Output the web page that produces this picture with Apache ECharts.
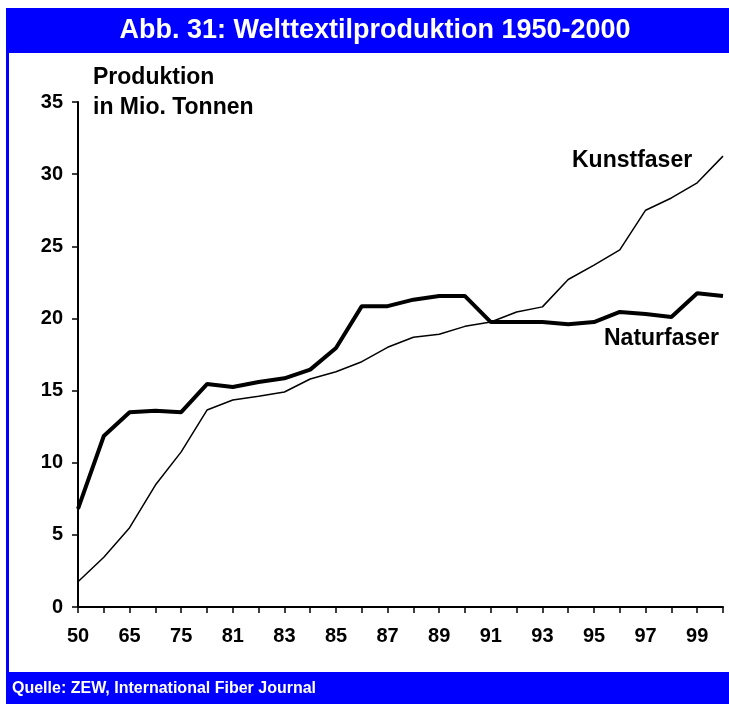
<!DOCTYPE html>
<html>
<head>
<meta charset="utf-8">
<script src="https://cdn.jsdelivr.net/npm/echarts@6/dist/echarts.min.js"></script>
<style>
html,body{margin:0;padding:0;background:#fff;}
#chart{width:729px;height:704px;}
</style>
</head>
<body>
<div id="chart"></div>
<script>
// Jahre (Kategorien), Beschriftung nur bei jedem zweiten
var years = ['50','60','65','70','75','80','81','82','83','84','85','86','87','88','89','90','91','92','93','94','95','96','97','98','99','00'];
// Mio. Tonnen
var naturfaser = [6.8,11.85,13.5,13.6,13.5,15.45,15.25,15.6,15.85,16.45,17.95,20.85,20.85,21.3,21.55,21.55,19.75,19.75,19.75,19.6,19.75,20.45,20.3,20.1,21.75,21.55];
var kunstfaser = [1.75,3.45,5.5,8.45,10.75,13.65,14.35,14.6,14.9,15.8,16.3,17.0,18.0,18.7,18.9,19.45,19.75,20.45,20.8,22.7,23.7,24.75,27.5,28.35,29.4,31.25];

var fontFam = 'Liberation Sans, Arial, sans-serif';
var blau = '#0000ff';

var chart = echarts.init(document.getElementById('chart'));
var option = {
    animation: false,
    grid: {
        left: 78,
        right: 6,
        top: 102,
        bottom: 97
    },
    xAxis: {
        type: 'category',
        data: years,
        boundaryGap: false,
        axisLine: {lineStyle: {color: '#000', width: 2}},
        axisTick: {show: true, interval: 0, length: 6, lineStyle: {color: '#000', width: 1.5}},
        axisLabel: {
            interval: function(i){ return i % 2 === 0; },
            hideOverlap: false,
            color: '#000',
            fontWeight: 'bold',
            fontSize: 20,
            fontFamily: fontFam,
            margin: 19
        },
        splitLine: {show: false}
    },
    yAxis: {
        type: 'value',
        min: 0,
        max: 35,
        interval: 5,
        axisLine: {show: true, lineStyle: {color: '#000', width: 2}},
        axisTick: {show: true, length: 6, lineStyle: {color: '#000', width: 1.5}},
        axisLabel: {
            color: '#000',
            fontWeight: 'bold',
            fontSize: 20,
            fontFamily: fontFam,
            margin: 15
        },
        splitLine: {show: false}
    },
    series: [{
            name: 'Kunstfaser',
            type: 'line',
            data: kunstfaser,
            symbol: 'none',
            lineStyle: {color: '#000', width: 1.5}
        },{
            name: 'Naturfaser',
            type: 'line',
            data: naturfaser,
            symbol: 'none',
            lineStyle: {color: '#000', width: 4}
        }],
    graphic: [
        // Titelbalken
        {type: 'rect', left: 6, top: 8, shape: {width: 723, height: 45}, style: {fill: blau}},
        {type: 'text', x: 375, y: 31, style: {text: 'Abb. 31: Welttextilproduktion 1950-2000', fill: '#fff', font: 'bold 27px ' + fontFam, textAlign: 'center', textVerticalAlign: 'middle'}},
        // linker Rand
        {type: 'rect', left: 6, top: 53, shape: {width: 3, height: 619}, style: {fill: blau}},
        // Fusszeile
        {type: 'rect', left: 6, top: 672, shape: {width: 723, height: 32}, style: {fill: blau}},
        {type: 'text', x: 12, y: 689, style: {text: 'Quelle: ZEW, International Fiber Journal', fill: '#fff', font: 'bold 16px ' + fontFam, textAlign: 'left', textVerticalAlign: 'middle'}},
        // Achsentitel
        {type: 'text', x: 93, y: 78, style: {text: 'Produktion', fill: '#000', font: 'bold 23px ' + fontFam, textAlign: 'left', textVerticalAlign: 'middle'}},
        {type: 'text', x: 93, y: 108, style: {text: 'in Mio. Tonnen', fill: '#000', font: 'bold 23px ' + fontFam, textAlign: 'left', textVerticalAlign: 'middle'}},
        // Serienbeschriftung
        {type: 'text', x: 572, y: 161, style: {text: 'Kunstfaser', fill: '#000', font: 'bold 23px ' + fontFam, textAlign: 'left', textVerticalAlign: 'middle'}},
        {type: 'text', x: 604, y: 339, style: {text: 'Naturfaser', fill: '#000', font: 'bold 23px ' + fontFam, textAlign: 'left', textVerticalAlign: 'middle'}}
    ]
};
chart.setOption(option);
</script>
</body>
</html>
